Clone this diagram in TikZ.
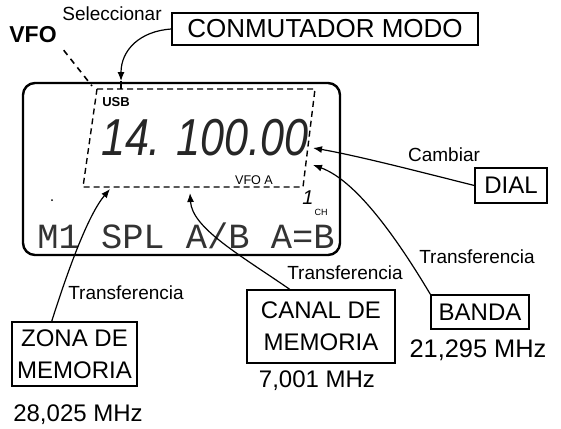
\documentclass[tikz,border=0pt]{standalone}
\usepackage{fontspec}
\setmainfont{Liberation Sans}
\newfontfamily\lcdfont{Liberation Mono}
\usetikzlibrary{arrows.meta}

\begin{document}
\begin{tikzpicture}[x=0.5pt, y=-0.5pt,
  big/.style={font=\fontsize{12}{16}\selectfont},
  small/.style={font=\fontsize{9.5}{11}\selectfont},
  tiny/.style={font=\fontsize{6.3}{7}\selectfont},
  box/.style={draw, line width=0.6pt, big, align=center, inner sep=0pt},
  conn/.style={-{Latex[length=4.5pt, width=3.5pt]}, line width=0.6pt}]
\useasboundingbox (0,0) rectangle (561,428);
% display
\draw[line width=1.2pt, rounded corners=6pt] (23,83) rectangle (340,255);
\draw[densely dashed, line width=0.7pt] (97,89) -- (315,89) -- (303,187) -- (83,187) -- cycle;
\node[font={\fontsize{6.5}{7}\selectfont\bfseries}] (usb) at (116,102) {USB};
\node[font={\fontsize{26}{26}\selectfont\itshape}, black!85] (freq) at (205,138) {\scalebox{0.83}[1]{14. 100.00}};
\node[tiny] (vfoa) at (254,180) {VFO A};
\node[font={\fontsize{10}{10}\selectfont\itshape}] (chnum) at (308,198) {1};
\node[font={\fontsize{4.5}{5}\selectfont}] (chtxt) at (321,212) {CH};
\fill (52,200) circle (1);
\node[font={\fontsize{17.7}{18}\lcdfont}, black!80] (row) at (186,236) {M1 SPL A/B A=B};
% tips on the display
\coordinate (vfotip) at (92,86);
\coordinate (modetip) at (121,81);
\coordinate (dialtip) at (313,148);
\coordinate (bandatip) at (313,165);
\coordinate (canaltip) at (190,193);
\coordinate (zonatip) at (110,189);
% callouts
\node[font=\fontsize{11.5}{12}\selectfont\bfseries] (vfo) at (33,35) {VFO};
\node[small] (sel) at (112,14) {Seleccionar};
\node[box, font=\fontsize{13}{16}\selectfont, minimum width=153pt, minimum height=16pt] (modo) at (325,29) {CONMUTADOR MODO};
\node[box, minimum width=36pt, minimum height=17.5pt] (dial) at (511,185.5) {DIAL};
\node[box, minimum width=49pt, minimum height=17pt] (banda) at (480,312) {BANDA};
\node[box, minimum width=74pt, minimum height=36.5pt] (canal) at (321,326.5) {CANAL DE\\MEMORIA};
\node[box, minimum width=62.5pt, minimum height=32pt] (zona) at (74.5,354) {ZONA DE\\MEMORIA};
\node[big] (fzona) at (78,415) {28,025 MHz};
\node[big] (fcanal) at (317,381) {7,001 MHz};
\node[big, font=\fontsize{12.7}{16}\selectfont] (fbanda) at (478,350) {21,295 MHz};
\node[small] (tzona) at (126,293) {Transferencia};
\node[small] (tcanal) at (345,273) {Transferencia};
\node[small] (tbanda) at (477,257) {Transferencia};
\node[small] (camb) at (444,155) {Cambiar};
% connectors
\draw[dash pattern=on 3pt off 2.5pt, line width=0.8pt] (vfo.south east) -- (vfotip);
\draw[conn] (modo.west) .. controls (140,31) and (121,50) .. (modetip);
\draw[line width=0.6pt] (modetip) -- ++(0,8);
\draw[conn] (dial.west) .. controls (440,177) and (360,156) .. (dialtip);
\draw[conn] (banda.north west) .. controls (395,235) and (355,180) .. (bandatip);
\draw[conn] (canal.130) .. controls (240,255) and (192,228) .. (canaltip);
\draw[conn] (zona.125) .. controls (68,270) and (88,215) .. (zonatip);
\end{tikzpicture}
\end{document}
